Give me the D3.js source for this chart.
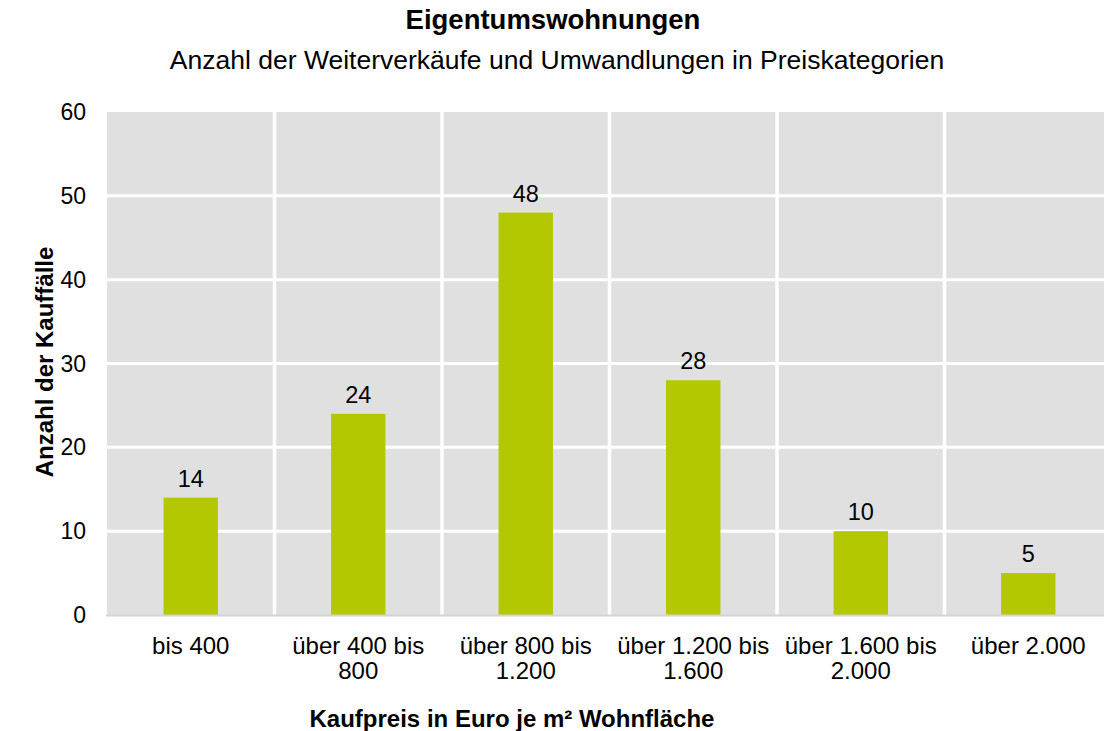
<!DOCTYPE html>
<html>
<head>
<meta charset="utf-8">
<script src="https://cdn.jsdelivr.net/npm/d3@7"></script>
<style>
  body { margin: 0; background: #fff; }
  text { font-family: "Liberation Sans", Arial, sans-serif; fill: #000; }
</style>
</head>
<body>
<script>
// Eigentumswohnungen - Kauffaelle je Preiskategorie

var categories = [
  ["bis 400"],
  ["über 400 bis", "800"],
  ["über 800 bis", "1.200"],
  ["über 1.200 bis", "1.600"],
  ["über 1.600 bis", "2.000"],
  ["über 2.000"]
];
var counts = [14, 24, 48, 28, 10, 5];
var yTicks = [0, 10, 20, 30, 40, 50, 60];

var width = 1104, height = 731;
var plotLeft = 107, plotTop = 112, plotW = 1005, plotH = 503;

var svg = d3.select("body").append("svg")
  .attr("width", width)
  .attr("height", height);

var x = d3.scaleBand()
  .domain(d3.range(categories.length))
  .range([plotLeft, plotLeft + plotW])
  .paddingInner(0)
  .paddingOuter(0);

var y = d3.scaleLinear()
  .domain([0, 60])
  .range([plotTop + plotH, plotTop]);

// plot background
svg.append("rect")
  .attr("x", plotLeft).attr("y", plotTop)
  .attr("width", plotW).attr("height", plotH)
  .attr("fill", "#e0e0e0");

// horizontal grid
svg.selectAll(".hgrid").data(yTicks.slice(1, -1)).enter().append("line")
  .attr("class", "hgrid")
  .attr("x1", plotLeft).attr("x2", plotLeft + plotW)
  .attr("y1", d => y(d)).attr("y2", d => y(d))
  .attr("stroke", "#fff").attr("stroke-width", 3);

// vertical separators between categories
svg.selectAll(".vgrid").data(d3.range(1, categories.length)).enter().append("line")
  .attr("class", "vgrid")
  .attr("x1", d => x(d)).attr("x2", d => x(d))
  .attr("y1", plotTop).attr("y2", plotTop + plotH)
  .attr("stroke", "#fff").attr("stroke-width", 3.5);

// bars
var barW = x.bandwidth() * 0.325;
svg.selectAll(".bar").data(counts).enter().append("rect")
  .attr("class", "bar")
  .attr("x", (d, i) => x(i) + x.bandwidth() / 2 - barW / 2)
  .attr("y", d => y(d))
  .attr("width", barW)
  .attr("height", d => y(0) - y(d))
  .attr("fill", "#b4c800");

// baseline
svg.append("line")
  .attr("x1", plotLeft - 1).attr("x2", plotLeft + plotW)
  .attr("y1", y(0) + 0.5).attr("y2", y(0) + 0.5)
  .attr("stroke", "#d4d4d4").attr("stroke-width", 2);

// value labels
svg.selectAll(".val").data(counts).enter().append("text")
  .attr("class", "val")
  .attr("x", (d, i) => x(i) + x.bandwidth() / 2)
  .attr("y", d => y(d) - 11)
  .attr("text-anchor", "middle")
  .attr("font-size", 23.5)
  .text(d => d);

// y axis tick labels
svg.selectAll(".ytick").data(yTicks).enter().append("text")
  .attr("class", "ytick")
  .attr("x", 86)
  .attr("y", d => y(d) + 8)
  .attr("text-anchor", "end")
  .attr("font-size", 23)
  .text(d => d);

// x axis category labels
var xl = svg.selectAll(".xtick").data(categories).enter().append("text")
  .attr("class", "xtick")
  .attr("text-anchor", "middle")
  .attr("font-size", 24);
xl.selectAll("tspan").data((d, i) => d.map(s => ({ s: s, i: i }))).enter().append("tspan")
  .attr("x", d => x(d.i) + x.bandwidth() / 2)
  .attr("y", (d, j) => 654 + j * 25)
  .text(d => d.s);

// titles
svg.append("text")
  .attr("x", 553).attr("y", 29)
  .attr("text-anchor", "middle")
  .attr("font-size", 27.5).attr("font-weight", "bold")
  .text("Eigentumswohnungen");
svg.append("text")
  .attr("x", 557).attr("y", 69)
  .attr("text-anchor", "middle")
  .attr("font-size", 26.5)
  .text("Anzahl der Weiterverkäufe und Umwandlungen in Preiskategorien");

// axis titles
svg.append("text")
  .attr("transform", "translate(53,362) rotate(-90)")
  .attr("text-anchor", "middle")
  .attr("font-size", 24).attr("font-weight", "bold")
  .text("Anzahl der Kauffälle");
svg.append("text")
  .attr("x", 512).attr("y", 727)
  .attr("text-anchor", "middle")
  .attr("font-size", 24).attr("font-weight", "bold")
  .text("Kaufpreis in Euro je m² Wohnfläche");
</script>
</body>
</html>
